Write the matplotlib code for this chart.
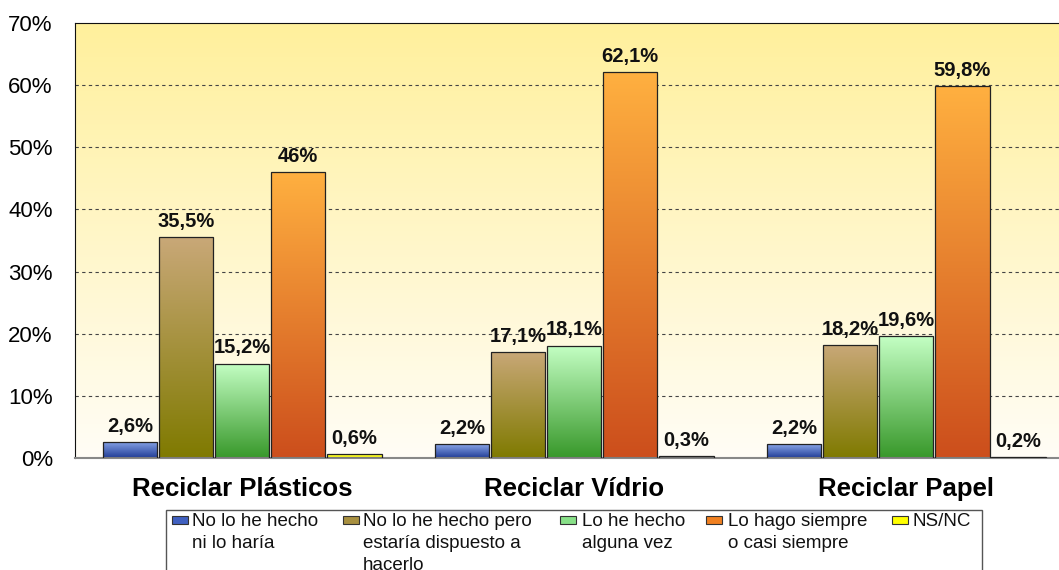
import matplotlib
matplotlib.use("Agg")
import matplotlib.pyplot as plt
import numpy as np
from matplotlib.colors import LinearSegmentedColormap
from matplotlib.patches import Rectangle

categorias = ["Reciclar Plásticos", "Reciclar Vídrio", "Reciclar Papel"]
series = ["No lo he hecho\nni lo haría",
          "No lo he hecho pero\nestaría dispuesto a\nhacerlo",
          "Lo he hecho\nalguna vez",
          "Lo hago siempre\no casi siempre",
          "NS/NC"]
valores = [
    [2.6, 2.2, 2.2],
    [35.5, 17.1, 18.2],
    [15.2, 18.1, 19.6],
    [46.0, 62.1, 59.8],
    [0.6, 0.3, 0.2],
]
etiquetas = [
    ["2,6%", "2,2%", "2,2%"],
    ["35,5%", "17,1%", "18,2%"],
    ["15,2%", "18,1%", "19,6%"],
    ["46%", "62,1%", "59,8%"],
    ["0,6%", "0,3%", "0,2%"],
]
# colores del degradado (arriba, abajo) y de la leyenda
degradados = [("#8aa6e8", "#203c96"), ("#c9a878", "#7f7a00"),
              ("#c4ffc4", "#38982a"), ("#ffb040", "#cc4e1c"),
              ("#ffff40", "#f0f000")]
color_leyenda = ["#4060c0", "#a89040", "#88e088", "#f08020", "#ffff00"]

plt.rcParams['font.family'] = ['Liberation Sans', 'DejaVu Sans']

W, H = 1059, 570
fig = plt.figure(figsize=(W / 100, H / 100), dpi=100)
ax = fig.add_axes([75 / W, 112 / H, 984 / W, 435 / H])

x = np.arange(len(categorias))
ancho = 0.169
xmin, xmax = -0.503, 2.46

# fondo degradado
fondo = LinearSegmentedColormap.from_list("fondo", ["#fffdf6", "#fff09c"])
ax.imshow(np.linspace(0, 1, 256).reshape(-1, 1), cmap=fondo, aspect="auto",
          extent=[xmin, xmax, 0, 70], origin="lower", zorder=0)

for y in range(10, 70, 10):
    ax.axhline(y, color="#444444", linestyle=(0, (3, 3)), linewidth=0.8, zorder=1)

for i in range(len(series)):
    pos = x + (i - 2) * ancho
    cmap = LinearSegmentedColormap.from_list("g%d" % i, [degradados[i][1], degradados[i][0]])
    barras = ax.bar(pos, valores[i], width=ancho * 0.97, color="none",
                    edgecolor="#222222", linewidth=0.9, zorder=3)
    for b, v in zip(barras, valores[i]):
        x0 = b.get_x()
        img = ax.imshow(np.linspace(0, 1, 256).reshape(-1, 1), cmap=cmap, aspect="auto",
                        extent=[x0, x0 + b.get_width(), 0, max(v, 0.01)],
                        origin="lower", zorder=2)
        img.set_clip_path(b)
    for p, v, t in zip(pos, valores[i], etiquetas[i]):
        ax.text(p, v + 1.0, t, ha="center", va="bottom", fontsize=14.5,
                fontweight="bold", color="#111111", zorder=4)

ax.set_xlim(xmin, xmax)
ax.set_ylim(0, 70)
ax.set_yticks(range(0, 80, 10))
ax.set_yticklabels(["%d%%" % v for v in range(0, 80, 10)], fontsize=16)
ax.tick_params(axis="y", length=0, pad=16)
ax.set_xticks(x)
ax.set_xticklabels(categorias, fontsize=18.5, fontweight="bold")
ax.tick_params(axis="x", length=0, pad=14)
for s in ["left", "top"]:
    ax.spines[s].set_color("#111111")
ax.spines["right"].set_visible(False)
ax.spines["bottom"].set_color("#888888")
ax.spines["bottom"].set_linewidth(1.5)

# leyenda dibujada a mano (cortada por abajo como en el original)
fig.patches.append(Rectangle((166 / W, -0.05), (982 - 166) / W, (H - 510) / H + 0.05,
                             transform=fig.transFigure, facecolor="white",
                             edgecolor="#555555", linewidth=1.0))
cuadros_x = [172, 343, 560, 706, 892]
textos_x = [192, 363, 582, 728, 913]
for cx, tx, c, s in zip(cuadros_x, textos_x, color_leyenda, series):
    fig.patches.append(Rectangle((cx / W, (H - 524) / H), 16 / W, 8 / H,
                                 transform=fig.transFigure, facecolor=c,
                                 edgecolor="#333333", linewidth=0.8))
    fig.text(tx / W, (H - 513) / H, s, ha="left", va="top", fontsize=13.5,
             linespacing=1.4, color="#111111")

fig.savefig("out.png", dpi=100)
